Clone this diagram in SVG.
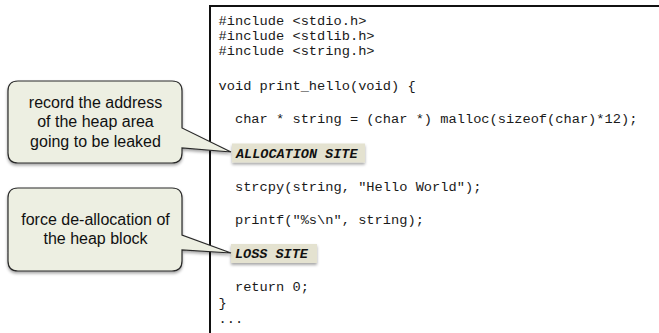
<svg xmlns="http://www.w3.org/2000/svg" width="659" height="333" viewBox="0 0 659 333">
<defs>
<filter id="sh" x="-20%" y="-20%" width="140%" height="150%">
<feDropShadow dx="0" dy="2" stdDeviation="1.5" flood-color="#000" flood-opacity="0.35"/>
</filter>
</defs>
<style>
.code{font-family:"Liberation Mono","Courier New",monospace;font-size:13.7px;fill:#1a1a1a;white-space:pre}
.tag{font-family:"Liberation Mono","Courier New",monospace;font-size:13.5px;font-weight:bold;font-style:italic;fill:#111}
.call{fill:#EDEFE2;stroke:#2a2a2a;stroke-width:1.2;filter:url(#sh)}
.ct{font-family:"Liberation Sans",Arial,sans-serif;font-size:16px;fill:#111;text-anchor:middle}
.lbl{fill:#E4E2D0;filter:url(#sh)}
</style>
<rect width="659" height="333" fill="#fff"/>
<g id="code">
<path d="M210,333 V6 H659" fill="none" stroke="#111" stroke-width="2"/>
<text class="code" x="218.5" y="25">#include &lt;stdio.h&gt;</text>
<text class="code" x="218.5" y="40">#include &lt;stdlib.h&gt;</text>
<text class="code" x="218.5" y="55">#include &lt;string.h&gt;</text>
<text class="code" x="218.5" y="90">void print_hello(void) {</text>
<text class="code" x="218.5" y="123" xml:space="preserve">  char * string = (char *) malloc(sizeof(char)*12);</text>
<text class="code" x="218.5" y="190.5" xml:space="preserve">  strcpy(string, "Hello World");</text>
<text class="code" x="218.5" y="223.5" xml:space="preserve">  printf("%s\n", string);</text>
<text class="code" x="218.5" y="290.5" xml:space="preserve">  return 0;</text>
<text class="code" x="218.5" y="307">}</text>
<text class="code" x="218.5" y="323">...</text>
</g>
<g id="alloc-site">
<rect class="lbl" x="232" y="143.5" width="133" height="19"/>
<text class="tag" x="236" y="157.5">ALLOCATION SITE</text>
</g>
<g id="loss-site">
<rect class="lbl" x="231" y="244" width="86" height="19"/>
<text class="tag" x="235" y="258">LOSS SITE</text>
</g>
<g id="callout-record">
<path class="call" d="M18,81 H172 Q182,81 182,91 V128 L231,152 L182,148 V153 Q182,163 172,163 H18 Q8,163 8,153 V91 Q8,81 18,81 Z"/>
<text class="ct" x="95.5" y="108">record the address</text>
<text class="ct" x="95.5" y="127">of the heap area</text>
<text class="ct" x="95.5" y="146.5">going to be leaked</text>
</g>
<g id="callout-force">
<path class="call" d="M18,188 H172 Q182,188 182,198 V235 L231,253 L182,250 V261 Q182,271 172,271 H18 Q8,271 8,261 V198 Q8,188 18,188 Z"/>
<text class="ct" x="95.5" y="225">force de-allocation of</text>
<text class="ct" x="95.5" y="244">the heap block</text>
</g>
<g id="connectors"></g>
</svg>
